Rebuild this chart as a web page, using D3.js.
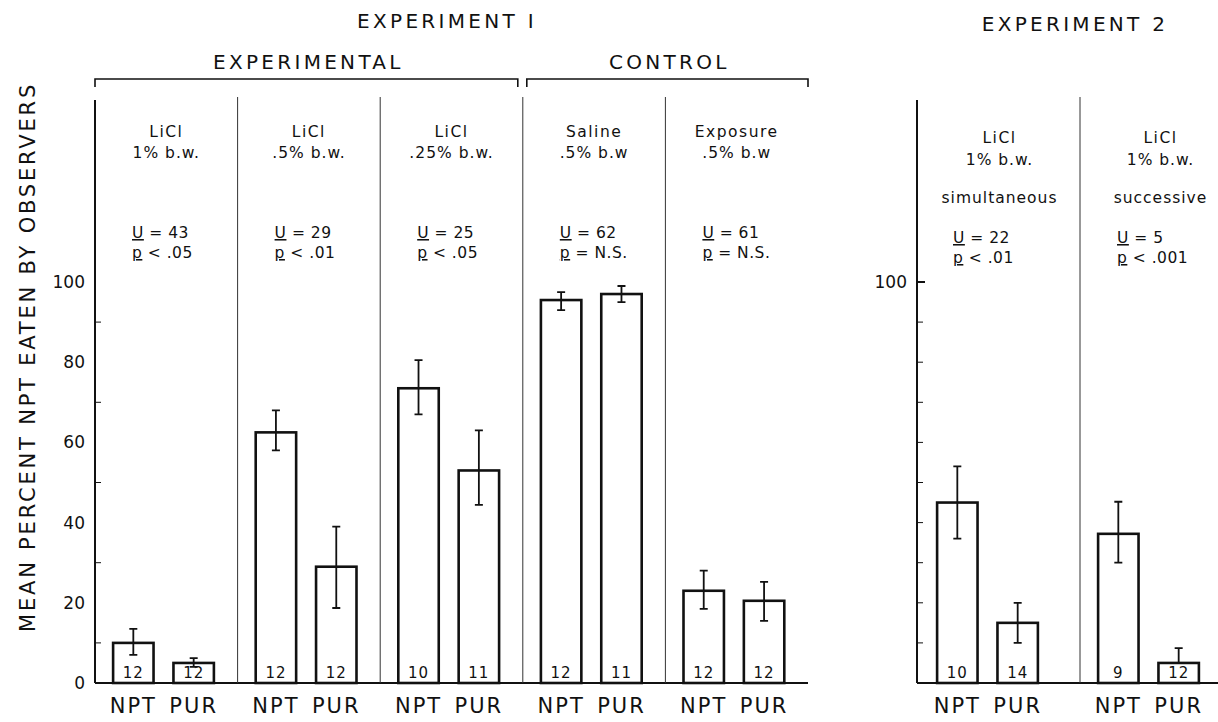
<!DOCTYPE html>
<html>
<head>
<meta charset="utf-8">
<script src="https://cdn.jsdelivr.net/npm/d3@7"></script>
<style>
  body { margin: 0; background: #fff; }
  text { font-family: 'DejaVu Sans', sans-serif; fill: #111; }
</style>
</head>
<body>
<div id="chart"></div>
<script>
// panel annotations
const line1 = ['LiCl', 'LiCl', 'LiCl', 'Saline', 'Exposure', 'LiCl', 'LiCl'];
const line2 = ['1% b.w.', '.5% b.w.', '.25% b.w.', '.5% b.w', '.5% b.w', '1% b.w.', '1% b.w.'];
const line3 = ['', '', '', '', '', 'simultaneous', 'successive'];
const uValues = ['43', '29', '25', '62', '61', '22', '5'];
const pValues = ['< .05', '< .01', '< .05', '= N.S.', '= N.S.', '< .01', '< .001'];

// bar values (mean percent) with error bar ranges
const nptMean = [10, 62.5, 73.5, 95.5, 23, 45, 37.2];
const nptLow = [7, 58, 67, 93, 18.5, 36, 30];
const nptHigh = [13.5, 68, 80.5, 97.5, 28, 54, 45.2];
const nptN = ['12', '12', '10', '12', '12', '10', '9'];
const purMean = [5, 29, 53, 97, 20.5, 15, 5];
const purLow = [4, 18.7, 44.4, 95, 15.5, 10, 5];
const purHigh = [6.2, 39, 63, 99, 25.2, 20, 8.7];
const purN = ['12', '12', '11', '11', '12', '14', '12'];

const exp1 = [0, 1, 2, 3, 4];
const exp2 = [5, 6];
const groupNames = ['EXPERIMENTAL', 'CONTROL'];
const groupPanels = [[0, 2], [3, 4]];
const leftTicks = [0, 20, 40, 60, 80, 100];
const leftMinor = [10, 30, 50, 70, 90];
const rightMinor = [10, 20, 30, 40, 50, 60, 70, 80, 90, 100];
const foods = ['NPT', 'PUR'];

const width = 1218, height = 722;
const svg = d3.select('#chart').append('svg')
  .attr('width', width).attr('height', height);

const y = d3.scaleLinear().domain([0, 100]).range([683, 282]);
const axisTop = 100;

const x1 = d3.scaleBand().domain(exp1).range([95, 808]);
const x2 = d3.scaleBand().domain(exp2).range([919, 1241]);
const panelX = (i) => i < 5 ? x1(i) : x2(i);
const xi = d3.scaleBand().domain(foods).range([0, 137]).paddingInner(0.33).paddingOuter(0.3);

const allPanels = exp1.concat(exp2);

// baselines and y axes
[[95, 808], [917, 1218]].forEach(([a, b]) => {
  svg.append('line').attr('x1', a).attr('x2', b).attr('y1', y(0)).attr('y2', y(0))
    .attr('stroke', '#111').attr('stroke-width', 2);
  svg.append('line').attr('x1', a).attr('x2', a).attr('y1', axisTop).attr('y2', y(0))
    .attr('stroke', '#111').attr('stroke-width', 2);
});

// left axis labels
const gl = svg.append('g').attr('transform', 'translate(95,0)')
  .call(d3.axisLeft(y).tickValues(leftTicks).tickSize(0).tickPadding(10));
gl.select('.domain').remove();
gl.selectAll('text').style('font-family', 'DejaVu Sans').style('font-size', '17px').attr('fill', '#111');
svg.selectAll('.lminor').data(leftMinor).join('line')
  .attr('x1', 95).attr('x2', 101).attr('y1', d => y(d)).attr('y2', d => y(d))
  .attr('stroke', '#111').attr('stroke-width', 1);

// right axis
const gr = svg.append('g').attr('transform', 'translate(917,0)')
  .call(d3.axisLeft(y).tickValues([100]).tickSize(0).tickPadding(10));
gr.select('.domain').remove();
gr.selectAll('text').style('font-family', 'DejaVu Sans').style('font-size', '17px').attr('fill', '#111');
svg.selectAll('.rminor').data(rightMinor).join('line')
  .attr('x1', 917).attr('x2', d => d === 100 ? 925 : 923).attr('y1', d => y(d)).attr('y2', d => y(d))
  .attr('stroke', '#111').attr('stroke-width', d => d === 100 ? 2 : 1);

// panel dividers
svg.selectAll('.divider').data(allPanels.filter(i => i !== 0 && i !== 5)).join('line')
  .attr('x1', d => panelX(d)).attr('x2', d => panelX(d))
  .attr('y1', 97).attr('y2', y(0))
  .attr('stroke', '#333').attr('stroke-width', 1);

// y title
svg.append('text')
  .attr('transform', 'translate(35,357) rotate(-90)')
  .attr('text-anchor', 'middle')
  .style('font-size', '21px').style('letter-spacing', '2.8px')
  .text('MEAN PERCENT NPT EATEN BY OBSERVERS');

// experiment titles
const titleStyle = sel => sel.style('font-size', '20px').style('letter-spacing', '3.3px');
svg.append('text').attr('x', 447).attr('y', 28).attr('text-anchor', 'middle')
  .call(titleStyle).text('EXPERIMENT I');
svg.append('text').attr('x', 1075).attr('y', 31).attr('text-anchor', 'middle')
  .call(titleStyle).text('EXPERIMENT 2');

// group brackets
groupNames.forEach((name, k) => {
  const [a, b] = groupPanels[k];
  const xa = x1(a) + (k === 0 ? 0 : 4);
  const xb = x1(b) + x1.bandwidth() - (k === 0 ? 5 : 0);
  svg.append('path')
    .attr('d', `M${xa},87V79H${xb}V87`)
    .attr('fill', 'none').attr('stroke', '#111').attr('stroke-width', 1.6);
  svg.append('text').attr('x', (xa + xb) / 2 + 2).attr('y', 69).attr('text-anchor', 'middle')
    .call(titleStyle).text(name);
});

// panel annotations
allPanels.forEach(i => {
  const px = panelX(i);
  const cx = px + (i < 5 ? x1.bandwidth() : 161) / 2;
  const right = i >= 5;
  const g = svg.append('g').style('font-size', '15.5px');
  g.append('text').attr('x', cx).attr('y', right ? 143 : 137).attr('text-anchor', 'middle')
    .style('letter-spacing', '1.5px').text(line1[i]);
  g.append('text').attr('x', cx).attr('y', right ? 165 : 158).attr('text-anchor', 'middle')
    .style('letter-spacing', '1px').text(line2[i]);
  if (line3[i]) {
    g.append('text').attr('x', cx).attr('y', 203).attr('text-anchor', 'middle')
      .style('letter-spacing', '1px').text(line3[i]);
  }
  const ux = px + (i === 5 ? 34 : 37);
  const uy = right ? 243 : 238;
  const tu = g.append('text').attr('x', ux).attr('y', uy).style('letter-spacing', '0.5px');
  tu.append('tspan').style('text-decoration', 'underline').text('U');
  tu.append('tspan').text(' = ' + uValues[i]);
  const tp = g.append('text').attr('x', ux).attr('y', uy + 20).style('letter-spacing', '0.5px');
  tp.append('tspan').style('text-decoration', 'underline').text('p');
  tp.append('tspan').text(' ' + pValues[i]);
});

// bars
const bars = [];
allPanels.forEach(i => {
  bars.push({ panel: i, food: 'NPT', mean: nptMean[i], lo: nptLow[i], hi: nptHigh[i], n: nptN[i] });
  bars.push({ panel: i, food: 'PUR', mean: purMean[i], lo: purLow[i], hi: purHigh[i], n: purN[i] });
});
const bx = d => panelX(d.panel) + xi(d.food);

svg.selectAll('.bar').data(bars).join('rect')
  .attr('x', bx).attr('width', xi.bandwidth())
  .attr('y', d => y(d.mean)).attr('height', d => y(0) - y(d.mean))
  .attr('fill', '#fff').attr('stroke', '#111').attr('stroke-width', 2.6);

svg.selectAll('.err').data(bars).join('path')
  .attr('d', d => {
    const c = bx(d) + xi.bandwidth() / 2;
    const lowCap = d.lo < d.mean ? `M${c - 4},${y(d.lo)}H${c + 4}` : '';
    return `M${c - 4},${y(d.hi)}H${c + 4}M${c},${y(d.hi)}V${y(d.lo)}` + lowCap;
  })
  .attr('fill', 'none').attr('stroke', '#111').attr('stroke-width', 1.8);

svg.selectAll('.nlab').data(bars).join('text')
  .attr('x', d => bx(d) + xi.bandwidth() / 2).attr('y', y(0) - 5)
  .attr('text-anchor', 'middle').style('font-size', '15px').style('letter-spacing', '1px')
  .text(d => d.n);

svg.selectAll('.xlab').data(bars).join('text')
  .attr('x', d => bx(d) + xi.bandwidth() / 2).attr('y', 713)
  .attr('text-anchor', 'middle').style('font-size', '21px').style('letter-spacing', '2px')
  .text(d => d.food);
</script>
</body>
</html>
